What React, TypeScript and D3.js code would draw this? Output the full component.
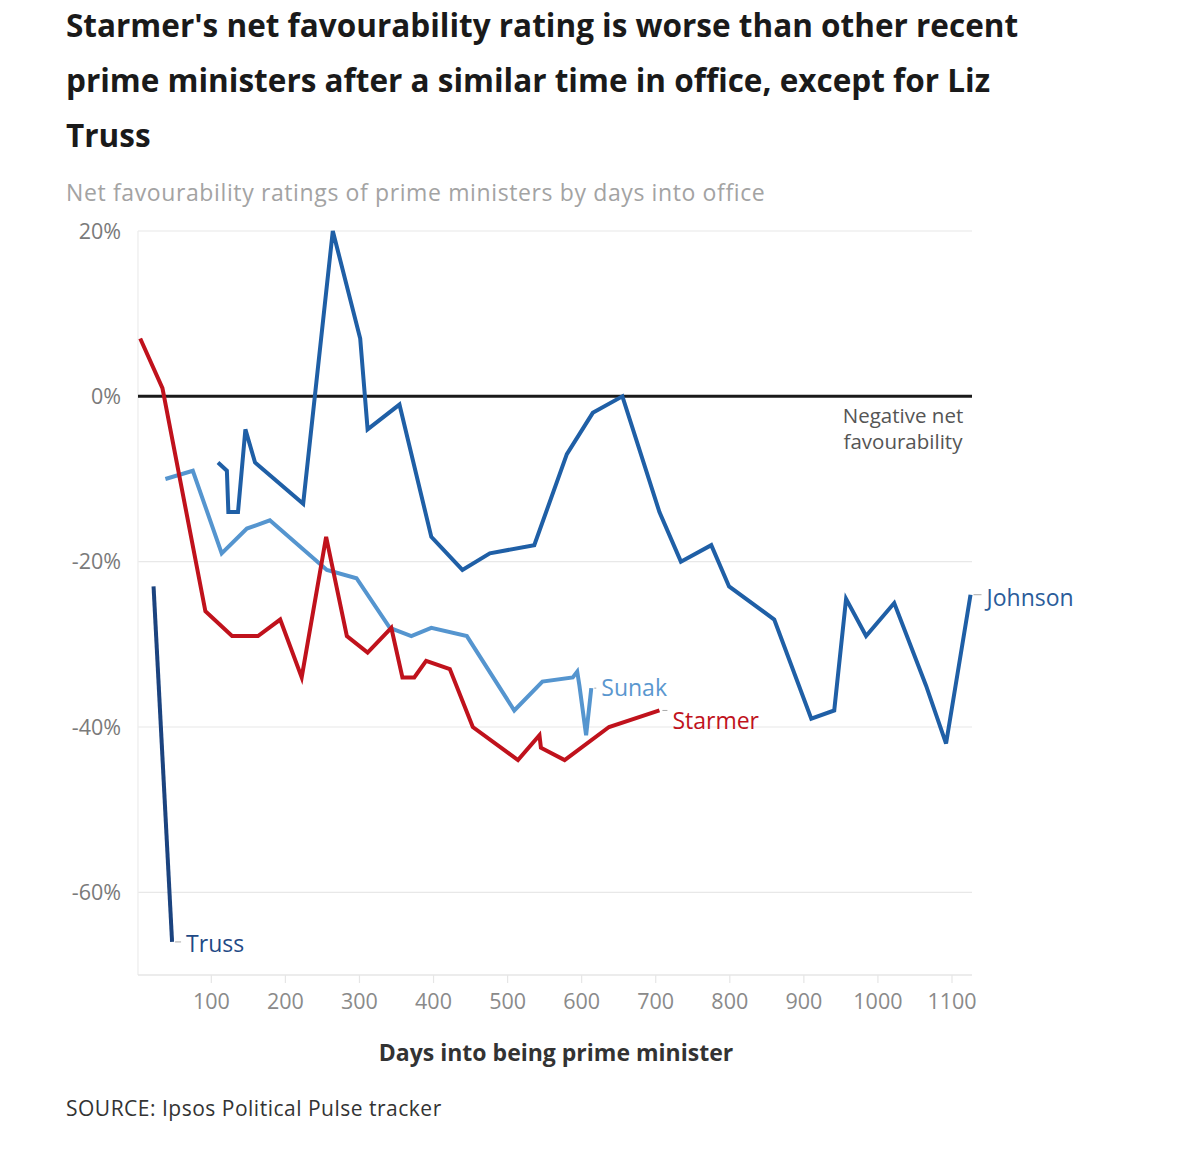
import React from 'react';
import * as d3 from 'd3';

// Net favourability (%) by days into office, per prime minister
const starmerDays = [4, 34, 92, 128, 163, 193, 222, 255, 283, 311, 343, 358, 374, 390, 422, 453, 514, 543, 545, 577, 637, 705];
const starmerNet = [7, 1, -26, -29, -29, -27, -34, -17, -29, -31, -28, -34, -34, -32, -33, -40, -44, -41, -42.5, -44, -40, -38];

const sunakDays = [38, 75, 114, 148, 179, 256, 296, 341, 370, 397, 445, 509, 547, 588, 594, 597, 606, 613];
const sunakNet = [-10, -9, -19, -16, -15, -21, -22, -28, -29, -28, -29, -38, -34.5, -34, -33.3, -35, -41, -35.3];

const johnsonDays = [109, 121, 123, 136, 146, 159, 224, 264, 301, 311, 354, 397, 439, 476, 536, 580, 615, 655, 705, 734, 775, 799, 860, 910, 941, 957, 984, 1022, 1065, 1092, 1125];
const johnsonNet = [-8, -9, -14, -14, -4, -8, -13, 20, 7, -4, -1, -17, -21, -19, -18, -7, -2, 0, -14, -20, -18, -23, -27, -39, -38, -24.5, -29, -25, -35, -42, -24];

const trussDays = [22, 47];
const trussNet = [-23, -66];

const xTicks = [100, 200, 300, 400, 500, 600, 700, 800, 900, 1000, 1100];
const yTicks = [20, 0, -20, -40, -60];

const titleLines = [
  "Starmer's net favourability rating is worse than other recent",
  'prime ministers after a similar time in office, except for Liz',
  'Truss',
];

const FONT = '"Open Sans", "DejaVu Sans", sans-serif';

const W = 1200;
const H = 1168;
const plot = { left: 138, right: 972, top: 231, bottom: 975 };

type Pt = { d: number; v: number };
const zip = (days: number[], vals: number[]): Pt[] => days.map((d, i) => ({ d, v: vals[i] }));

export default function App() {
  const x = d3.scaleLinear().domain([1, 1127]).range([plot.left, plot.right]);
  const y = d3.scaleLinear().domain([-70, 20]).range([plot.bottom, plot.top]);
  const lineGen = d3
    .line<Pt>()
    .x((p) => x(p.d))
    .y((p) => y(p.v));

  const series = [
    { name: 'Johnson', pts: zip(johnsonDays, johnsonNet), color: '#1f5fa6', label: '#2a5c9a', dx: 16, dy: 3 },
    { name: 'Truss', pts: zip(trussDays, trussNet), color: '#1b437f', label: '#1f4a86', dx: 14, dy: 2 },
    { name: 'Sunak', pts: zip(sunakDays, sunakNet), color: '#5595cf', label: '#5a97cf', dx: 10, dy: 0 },
    { name: 'Starmer', pts: zip(starmerDays, starmerNet), color: '#c0121c', label: '#c0121c', dx: 13, dy: 10 },
  ];

  return (
    <svg width={W} height={H} style={{ position: 'absolute', left: 0, top: 0, background: '#fff' }} fontFamily={FONT}>
      {titleLines.map((t, i) => (
        <text key={i} x={66} y={37 + i * 55} fontSize={31.5} fontWeight={700} fill="#1a1a1a">
          {t}
        </text>
      ))}
      <text x={66} y={201} fontSize={23} letterSpacing={0.62} fill="#a3a3a3">
        Net favourability ratings of prime ministers by days into office
      </text>

      {/* grid */}
      {yTicks
        .filter((t) => t !== 0)
        .map((t) => (
          <line key={t} x1={plot.left} x2={plot.right} y1={y(t)} y2={y(t)} stroke="#e8e8e8" strokeWidth={1.2} />
        ))}
      <line x1={plot.left} x2={plot.left} y1={plot.top} y2={plot.bottom} stroke="#ececec" strokeWidth={1.2} />
      <line x1={plot.left} x2={plot.right} y1={plot.bottom} y2={plot.bottom} stroke="#e6e6e6" strokeWidth={1.5} />
      {xTicks.map((t) => (
        <line key={t} x1={x(t)} x2={x(t)} y1={plot.bottom} y2={plot.bottom + 8} stroke="#e6e6e6" strokeWidth={1.2} />
      ))}

      {/* axis labels */}
      {yTicks.map((t) => (
        <text key={t} x={121} y={y(t)} dy="0.35em" textAnchor="end" fontSize={21.5} fill="#7a7a7a">
          {`${t}%`}
        </text>
      ))}
      {xTicks.map((t) => (
        <text key={t} x={x(t)} y={1009} textAnchor="middle" fontSize={21.5} fill="#8a8a8a">
          {t}
        </text>
      ))}

      {/* zero line */}
      <line x1={plot.left} x2={plot.right} y1={y(0)} y2={y(0)} stroke="#1a1a1a" strokeWidth={3} />
      <text x={903} y={y(0) + 27} textAnchor="middle" fontSize={20.5} fill="#555">
        Negative net
      </text>
      <text x={903} y={y(0) + 53} textAnchor="middle" fontSize={20.5} fill="#555">
        favourability
      </text>

      {series.map((s) => {
        const last = s.pts[s.pts.length - 1];
        const lx = x(last.d);
        const ly = y(last.v);
        return (
          <g key={s.name}>
            <path d={lineGen(s.pts) ?? ''} fill="none" stroke={s.color} strokeWidth={4} strokeLinejoin="miter" />
            <line x1={lx + 3} x2={lx + s.dx - 5} y1={ly} y2={ly} stroke="#aaa" strokeWidth={1} />
            <text x={lx + s.dx} y={ly + s.dy} dy="0.35em" fontSize={23} fill={s.label}>
              {s.name}
            </text>
          </g>
        );
      })}

      <text x={556} y={1061} textAnchor="middle" fontSize={23} fontWeight={700} fill="#333">
        Days into being prime minister
      </text>
      <text x={66} y={1116} fontSize={21} letterSpacing={0.5} fill="#333">
        SOURCE: Ipsos Political Pulse tracker
      </text>
    </svg>
  );
}
